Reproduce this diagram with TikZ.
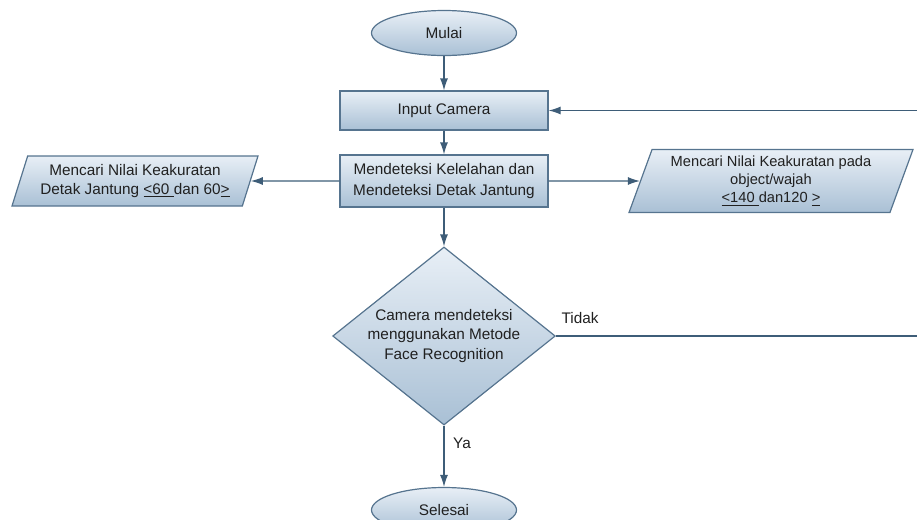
\documentclass[tikz,border=0pt]{standalone}
\usepackage{fontspec}
\setmainfont{Liberation Sans}
\usetikzlibrary{shapes.geometric, arrows.meta}
\definecolor{fillatas}{HTML}{E8EFF6}
\definecolor{fillbawah}{HTML}{A9C0D5}
\definecolor{garis}{HTML}{56748F}
\definecolor{panah}{HTML}{3E5D78}
\definecolor{teks}{HTML}{202020}

\begin{document}
\begin{tikzpicture}[x=0.75pt, y=-0.75pt,
  base/.style={draw=garis, line width=0.9pt, top color=fillatas, bottom color=fillbawah,
    text=teks, font=\fontsize{11.5}{14.5}\selectfont, align=center, inner sep=0pt},
  terminal/.style={base, ellipse, minimum width=108.75pt, minimum height=33.75pt},
  proses/.style={base, rectangle, minimum width=156pt},
  data/.style={base, trapezium, trapezium left angle=65, trapezium right angle=115,
    trapezium stretches body},
  keputusan/.style={base, diamond, aspect=1.25},
  alur/.style={draw=panah, line width=0.9pt, -{Latex[length=9pt, width=6pt]}},
  garisbiasa/.style={draw=panah, line width=0.9pt},
  ket/.style={text=teks, font=\fontsize{11.5}{14}\selectfont}]
  \useasboundingbox (0,0) rectangle (917,519);

  \node[terminal] (mulai) at (444,33) {Mulai};
  \node[proses, minimum height=29.25pt] (input) at (444,110.5) {Input Camera};
  \node[proses, minimum height=39pt, font=\fontsize{11.5}{15.75}\selectfont] (deteksi) at (444,181)
    {Mendeteksi Kelelahan dan\\Mendeteksi Detak Jantung};
  \node[data, minimum width=184.5pt, minimum height=37.5pt] (nilaikiri) at (135,181)
    {Mencari Nilai Keakuratan\\Detak Jantung \underline{<60 }dan 60\underline{>}};
  \node[data, minimum width=213pt, minimum height=47.25pt, font=\fontsize{11}{13.5}\selectfont] (nilaikanan) at (771,181)
    {Mencari Nilai Keakuratan pada\\object/wajah\\\underline{<140 }dan120 \underline{>}};
  \node[keputusan, minimum width=167pt, minimum height=133.5pt] (cek) at (444,336)
    {Camera mendeteksi\\menggunakan Metode\\Face Recognition};
  \node[terminal] (selesai) at (444,510) {Selesai};

  \coordinate (tidakujung) at (917,336);
  \coordinate (balik) at (917,110.5);

  \draw[alur] (mulai) -- (input);
  \draw[alur] (input) -- (deteksi);
  \draw[alur] (deteksi.west) -- (nilaikiri.east);
  \draw[alur] (deteksi.east) -- (nilaikanan.west);
  \draw[alur] (deteksi) -- (cek);
  \draw[alur] (cek) -- (selesai);
  \draw[garisbiasa] (cek.east) -- (tidakujung);
  \draw[alur] (balik) -- (input.east);

  \node[ket] (ya) at (462,443) {Ya};
  \node[ket] (tidak) at (580,318) {Tidak};
\end{tikzpicture}
\end{document}
